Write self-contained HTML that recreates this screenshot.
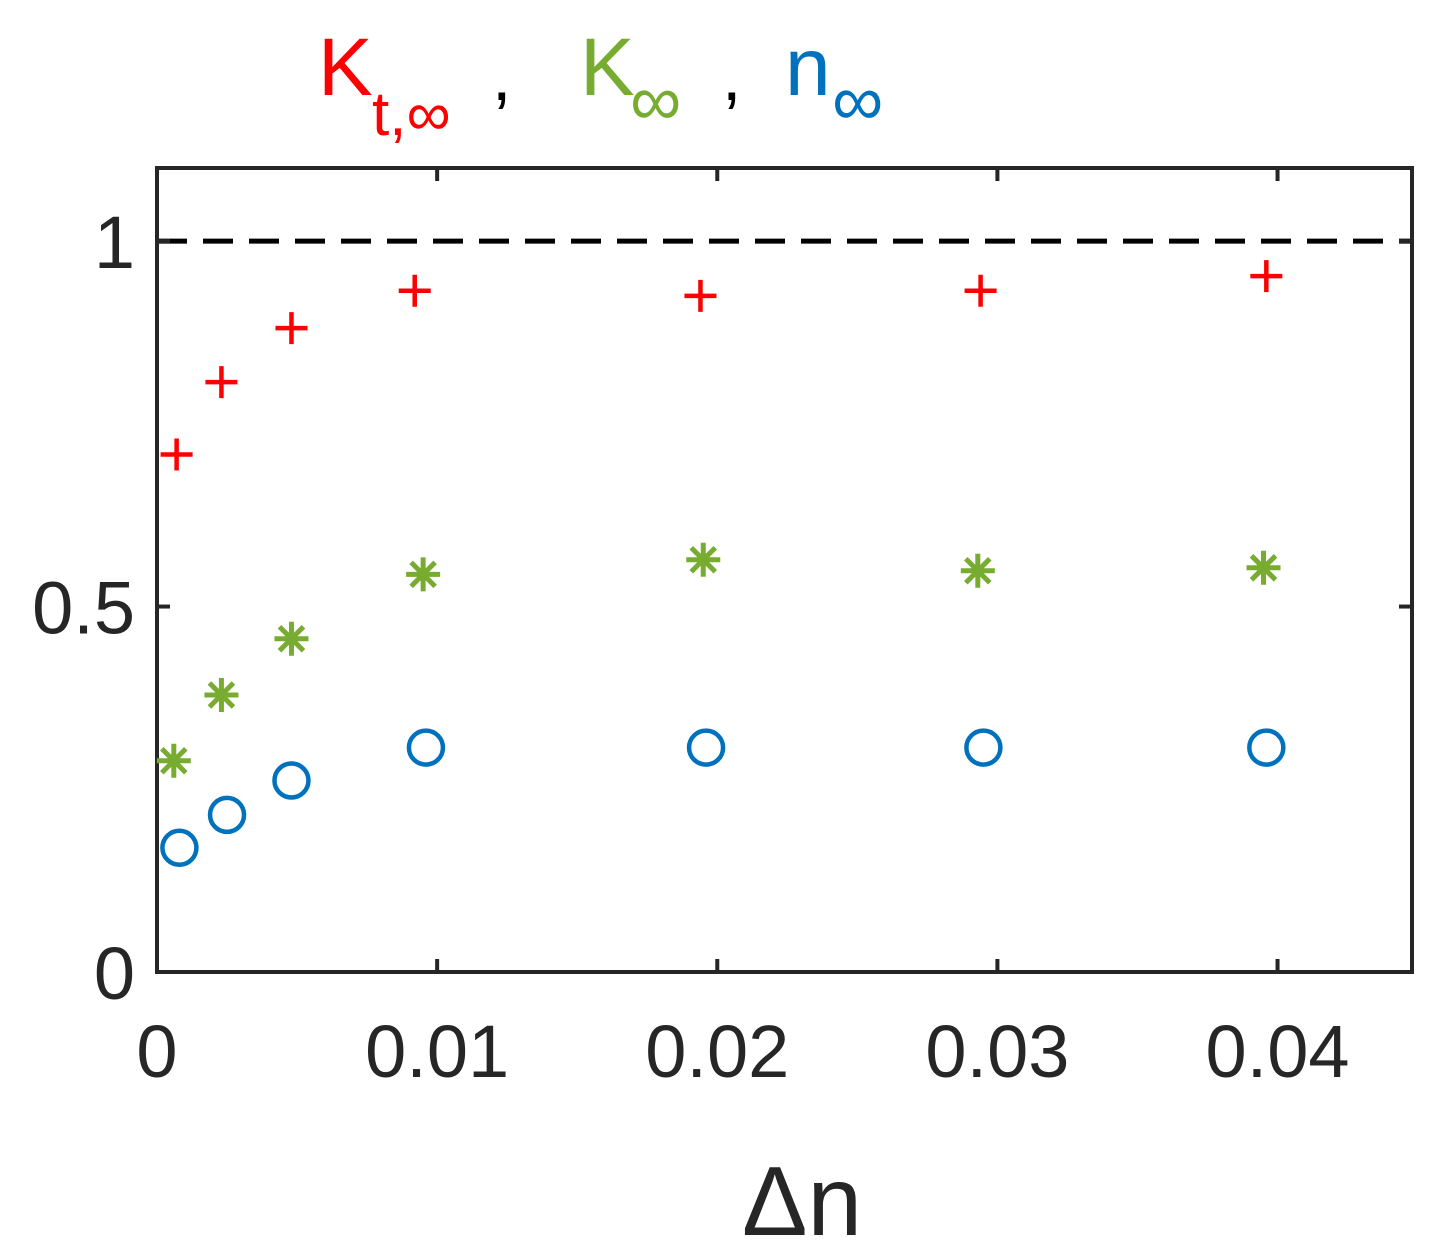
<!DOCTYPE html>
<html><head><meta charset="utf-8"><style>
html,body{margin:0;padding:0;background:#fff}
svg{display:block;font-family:"Liberation Sans",sans-serif}
</style></head><body>
<svg id="chart" width="1440" height="1258" viewBox="0 0 1440 1258">
<g>
<text x="318" y="95" font-size="82" fill="#ff0000">K</text>
<text x="372" y="135" font-size="62" fill="#ff0000">t,∞</text>
<text x="492" y="100" font-size="70" fill="#000">,</text>
<text x="580" y="95" font-size="82" fill="#77ac30">K</text>
<text x="630" y="125" font-size="72" fill="#77ac30">∞</text>
<text x="722" y="100" font-size="70" fill="#000">,</text>
<text x="785" y="95" font-size="82" fill="#0072bd">n</text>
<text x="832" y="125" font-size="72" fill="#0072bd">∞</text>
</g>
<g id="plot"></g>
<text x="802" y="1235" font-size="98" text-anchor="middle" fill="#262626">Δn</text>
</svg>
<script>
const xTicks=[0,0.01,0.02,0.03,0.04];
const xTickLabels=["0","0.01","0.02","0.03","0.04"];
const yTicks=[0,0.5,1];
const yTickLabels=["0","0.5","1"];
const xRed=[0.0007,0.0023,0.0048,0.0092,0.0194,0.0294,0.0396];
const ktInf=[0.708,0.807,0.881,0.932,0.925,0.932,0.952];
const xGreen=[0.0006,0.0023,0.0048,0.0095,0.0195,0.0293,0.0395];
const kInf=[0.289,0.379,0.456,0.544,0.564,0.549,0.553];
const xBlue=[0.0008,0.0025,0.0048,0.0096,0.0196,0.0295,0.0396];
const nInf=[0.170,0.215,0.262,0.307,0.307,0.307,0.307];
const L=157,R=1412,T=168,B=972,XMAX=0.0448,YMAX=1.1;
const sx=v=>L+v/XMAX*(R-L);
const sy=v=>B-v/YMAX*(B-T);
const NS="http://www.w3.org/2000/svg";
const g=document.getElementById('plot');
function mk(tag,attrs,parent){const e=document.createElementNS(NS,tag);for(const k in attrs)e.setAttribute(k,attrs[k]);(parent||g).appendChild(e);return e;}
const ref=mk('line',{x1:L,x2:R,y1:sy(1),y2:sy(1),stroke:'#000','stroke-width':5,'stroke-dasharray':'30,16'});


xTicks.forEach((v,i)=>{
 const t=mk('line',{x1:sx(v),x2:sx(v),y1:B,y2:B-13,stroke:'#262626','stroke-width':4});
 
 
 const t2=mk('line',{x1:sx(v),x2:sx(v),y1:T,y2:T+13,stroke:'#262626','stroke-width':4});
 
 
 const l=mk('text',{x:sx(v),y:B+105,'font-size':74,'text-anchor':'middle',fill:'#262626'});
 l.textContent=xTickLabels[i];
 
 
});
yTicks.forEach((v,i)=>{
 const t=mk('line',{x1:L,x2:L+13,y1:sy(v),y2:sy(v),stroke:'#262626','stroke-width':4});
 
 
 const t2=mk('line',{x1:R,x2:R-13,y1:sy(v),y2:sy(v),stroke:'#262626','stroke-width':4});
 
 
 const l=mk('text',{x:L-22,y:sy(v)+27,'font-size':74,'text-anchor':'end',fill:'#262626'});
 l.textContent=yTickLabels[i];
 
 
});
const box=mk('rect',{x:L,y:T,width:R-L,height:B-T,fill:'none',stroke:'#262626','stroke-width':4});


ktInf.forEach((v,i)=>{
 const x=sx(xRed[i]),y=sy(v);
 const p=mk('path',{d:`M${x-16},${y}H${x+16}M${x},${y-16}V${y+16}`,stroke:'#ff0000','stroke-width':4.5,fill:'none'});
 
 
});
kInf.forEach((v,i)=>{
 const x=sx(xGreen[i]),y=sy(v),r=17,d=12;
 const p=mk('path',{d:`M${x-r},${y}H${x+r}M${x},${y-r}V${y+r}M${x-d},${y-d}L${x+d},${y+d}M${x-d},${y+d}L${x+d},${y-d}`,stroke:'#77ac30','stroke-width':5,fill:'none'});
 
 
});
nInf.forEach((v,i)=>{
 const c=mk('circle',{cx:sx(xBlue[i]),cy:sy(v),r:17,stroke:'#0072bd','stroke-width':4.5,fill:'none'});
 
 
});
</script>
</body></html>
